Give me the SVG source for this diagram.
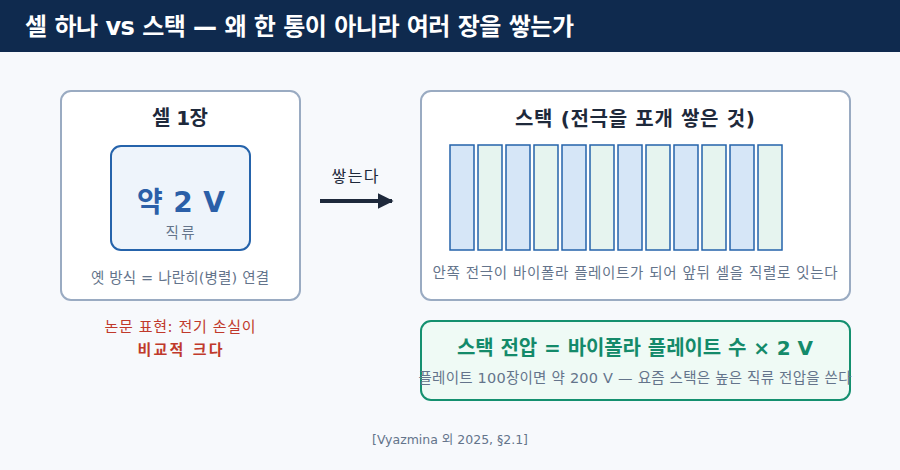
<svg xmlns="http://www.w3.org/2000/svg" width="900" height="470" viewBox="0 0 900 470">
<defs>
<style>
text{font-family:"DejaVu Sans","Noto Sans CJK KR",sans-serif;text-anchor:middle}
.panel{fill:#ffffff;stroke:#9aabc2;stroke-width:2}
.h{font-size:20px;font-weight:bold;fill:#1e293b}
.muted{font-size:14.5px;fill:#64748b}
.pa{fill:#d6e6f7;stroke:#2563ab;stroke-width:1.5}
.pb{fill:#e6f4ef;stroke:#2563ab;stroke-width:1.5}
.red{font-size:15px;fill:#c0392b}
</style>
<marker id="arr" viewBox="0 0 10 10" refX="9" refY="5" markerWidth="4" markerHeight="4" orient="auto" markerUnits="strokeWidth">
<path d="M0,0 L10,5 L0,10 Z" fill="#1e293b"/>
</marker>
</defs>
<rect width="900" height="470" fill="#f7f9fc"/>
<g id="header">
<rect width="900" height="52" fill="#0f2a4e"/>
<text x="25" y="35" textLength="549" style="text-anchor:start;font-size:24px;font-weight:bold;fill:#ffffff">셀 하나 vs 스택 — 왜 한 통이 아니라 여러 장을 쌓는가</text>
</g>
<g id="cell">
<rect class="panel" x="61" y="91" width="239" height="209" rx="10"/>
<text class="h" x="180" y="125" textLength="56">셀 1장</text>
<rect x="111" y="146" width="139" height="104" rx="10" fill="#eef4fb" stroke="#2563ab" stroke-width="2"/>
<text x="181" y="212" textLength="88" style="font-size:28px;font-weight:bold;fill:#2b5fa8">약 2 V</text>
<text class="muted" x="180" y="238" textLength="29">직류</text>
<text class="muted" x="180" y="283" textLength="178">옛 방식 = 나란히(병렬) 연결</text>
</g>
<g id="note">
<text class="red" x="180" y="332" textLength="151">논문 표현: 전기 손실이</text>
<text class="red" x="180" y="355" textLength="85" font-weight="bold">비교적 크다</text>
</g>
<g id="connectors">
<line x1="320" y1="201" x2="392" y2="201" stroke="#1e293b" stroke-width="4" marker-end="url(#arr)"/>
<text x="355" y="182" textLength="47" style="font-size:16px;fill:#1e293b">쌓는다</text>
</g>
<g id="stack">
<rect class="panel" x="421" y="91" width="429" height="209" rx="10"/>
<text class="h" x="635" y="126" textLength="240">스택 (전극을 포개 쌓은 것)</text>
<rect class="pa" x="450" y="145" width="24" height="105"/>
<rect class="pb" x="478" y="145" width="24" height="105"/>
<rect class="pa" x="506" y="145" width="24" height="105"/>
<rect class="pb" x="534" y="145" width="24" height="105"/>
<rect class="pa" x="562" y="145" width="24" height="105"/>
<rect class="pb" x="590" y="145" width="24" height="105"/>
<rect class="pa" x="618" y="145" width="24" height="105"/>
<rect class="pb" x="646" y="145" width="24" height="105"/>
<rect class="pa" x="674" y="145" width="24" height="105"/>
<rect class="pb" x="702" y="145" width="24" height="105"/>
<rect class="pa" x="730" y="145" width="24" height="105"/>
<rect class="pb" x="758" y="145" width="24" height="105"/>
<text class="muted" x="635" y="278" textLength="405">안쪽 전극이 바이폴라 플레이트가 되어 앞뒤 셀을 직렬로 잇는다</text>
</g>
<g id="formula">
<rect x="421" y="321" width="429" height="79" rx="10" fill="#effaf5" stroke="#14906f" stroke-width="2"/>
<text x="635" y="355" textLength="356" style="font-size:20px;font-weight:bold;fill:#148a6a">스택 전압 = 바이폴라 플레이트 수 × 2 V</text>
<text class="muted" x="635" y="383" textLength="433">플레이트 100장이면 약 200 V — 요즘 스택은 높은 직류 전압을 쓴다</text>
</g>
<g id="footer">
<text x="450" y="444" textLength="156" style="font-size:12.5px;fill:#64748b">[Vyazmina 외 2025, §2.1]</text>
</g>
</svg>
